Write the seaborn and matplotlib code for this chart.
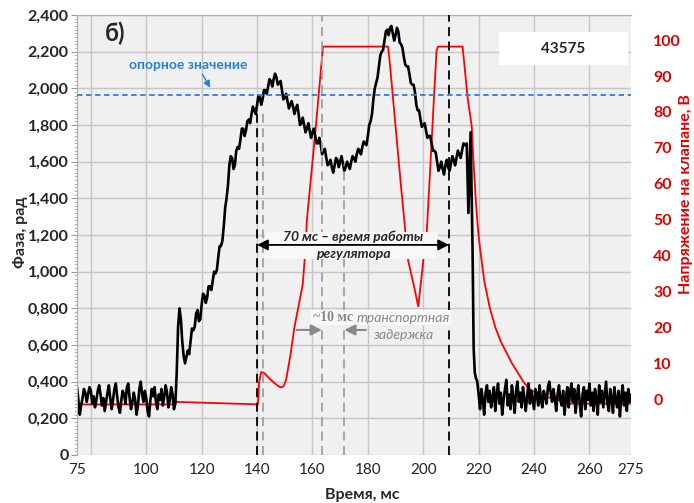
import numpy as np
import pandas as pd
import matplotlib
matplotlib.use("Agg")
import matplotlib.pyplot as plt
import seaborn as sns
from matplotlib.patches import Rectangle
from matplotlib.ticker import MultipleLocator
from matplotlib.transforms import blended_transform_factory

# --- данные: фаза (левая ось), шум до импульса
phase_pre = [0.37, 0.30, 0.22, 0.27, 0.31, 0.36, 0.34, 0.29, 0.33, 0.37,
             0.35, 0.28, 0.32, 0.26, 0.30, 0.35, 0.38, 0.33, 0.27, 0.31,
             0.24, 0.29, 0.34, 0.38, 0.31, 0.25, 0.30, 0.36, 0.39, 0.32,
             0.26, 0.23, 0.30, 0.35, 0.33, 0.28, 0.37, 0.39, 0.31, 0.25,
             0.29, 0.34, 0.30, 0.22, 0.27, 0.36, 0.40, 0.33, 0.29, 0.35,
             0.31, 0.24, 0.21, 0.30, 0.36, 0.32, 0.37, 0.29, 0.25, 0.33,
             0.30, 0.36, 0.27, 0.32, 0.38, 0.34, 0.26, 0.30, 0.37, 0.33,
             0.25, 0.28]
t_pre = np.linspace(75, 110.5, len(phase_pre))

# основная часть импульса (целые мс и края)
t_mid = [111, 111.5, 112, 112.5, 113, 113.5, 114] + list(range(115, 216)) + \
        [215.7, 216.3, 217.1, 217.8, 218.2, 218.6, 219]
phase_mid = [0.45, 0.70, 0.80, 0.74, 0.62, 0.54, 0.50,
             0.57, 0.62, 0.68, 0.77, 0.73, 0.82, 0.87, 0.86, 0.92, 0.95,
             0.99, 1.08, 1.14, 1.25, 1.40, 1.58, 1.62, 1.58, 1.68, 1.72,
             1.78, 1.77, 1.83, 1.86, 1.88, 1.91, 1.95, 1.94, 1.99, 2.01,
             2.04, 2.05, 2.06, 2.03, 1.99, 1.95, 1.93, 1.91, 1.90, 1.89,
             1.86, 1.81, 1.80, 1.78, 1.77, 1.76, 1.74, 1.70, 1.69, 1.66,
             1.62, 1.59, 1.57, 1.58, 1.61, 1.60, 1.59, 1.57, 1.58, 1.60,
             1.62, 1.64, 1.66, 1.68, 1.70, 1.74, 1.82, 1.94, 2.03, 2.12,
             2.20, 2.26, 2.32, 2.33, 2.30, 2.29, 2.31, 2.24, 2.17, 2.12,
             2.08, 2.02, 1.98, 1.88, 1.83, 1.80, 1.77, 1.74, 1.70, 1.66,
             1.60, 1.57, 1.56, 1.58, 1.57, 1.59, 1.61, 1.62, 1.64, 1.66,
             1.69,
             1.70, 1.32, 1.76, 1.12, 0.58, 0.45, 0.42]

# шумовые отсчёты между целыми мс (115.5 ... 214.5)
phase_mid_half = [0.55, 0.69, 0.70, 0.79, 0.74, 0.88, 0.83, 0.92, 0.90, 1.00,
                  1.01, 1.14, 1.17, 1.35, 1.47, 1.63, 1.56, 1.66, 1.67, 1.78,
                  1.74, 1.82, 1.81, 1.90, 1.86, 1.96, 1.91, 1.99, 1.97, 2.05,
                  2.01, 2.08, 2.02, 2.04, 1.94, 1.97, 1.89, 1.93, 1.86, 1.91,
                  1.80, 1.84, 1.76, 1.81, 1.73, 1.78, 1.70, 1.73, 1.64, 1.67,
                  1.58, 1.61, 1.54, 1.62, 1.57, 1.63, 1.55, 1.60, 1.56, 1.63,
                  1.60, 1.67, 1.64, 1.71, 1.69, 1.80, 1.86, 2.00, 2.06, 2.18,
                  2.21, 2.31, 2.29, 2.34, 2.26, 2.33, 2.25, 2.22, 2.13, 2.12,
                  2.03, 2.02, 1.91, 1.88, 1.79, 1.81, 1.73, 1.74, 1.66, 1.65,
                  1.55, 1.60, 1.53, 1.61, 1.55, 1.63, 1.58, 1.66, 1.62, 1.70]
t_mid_half = np.linspace(115.5, 214.5, len(phase_mid_half))

# шум после импульса
phase_post = [0.40, 0.33, 0.25, 0.36, 0.30, 0.22, 0.34, 0.38, 0.29, 0.35,
              0.26, 0.31, 0.37, 0.24, 0.33, 0.39, 0.28, 0.34, 0.22, 0.30,
              0.36, 0.41, 0.27, 0.33, 0.25, 0.38, 0.31, 0.23, 0.35, 0.40,
              0.29, 0.34, 0.26, 0.37, 0.31, 0.24, 0.32, 0.39, 0.28, 0.35,
              0.30, 0.25, 0.36, 0.33, 0.27, 0.38, 0.30, 0.26, 0.35, 0.32,
              0.28, 0.37, 0.40, 0.34, 0.29, 0.36, 0.31, 0.24, 0.33, 0.38,
              0.30, 0.27, 0.35, 0.22, 0.31, 0.37, 0.26, 0.34, 0.39, 0.29,
              0.36, 0.23, 0.32, 0.38, 0.28, 0.21, 0.33, 0.37, 0.25, 0.35,
              0.30, 0.39, 0.27, 0.34, 0.24, 0.36, 0.31, 0.22, 0.38, 0.29,
              0.35, 0.26, 0.33, 0.40, 0.28, 0.24, 0.36, 0.31, 0.23, 0.37,
              0.30, 0.26, 0.35, 0.21, 0.32, 0.38, 0.27, 0.34, 0.24, 0.36,
              0.29, 0.33]
t_post = np.linspace(219.5, 275, len(phase_post))

# напряжение на клапане (правая ось)
t_volt = [75, 110, 111, 140.3, 140.8, 141.5, 142.5, 143.5, 145, 147,
          148.5, 149.5, 150.5, 152, 153.5, 155, 156.5, 157.5, 158, 159.5,
          161, 162.5, 163.8, 164.3, 187.3, 188, 190, 192, 193.5, 194.6,
          196.5, 198.2, 200, 201.3, 202.5, 204, 204.8, 205.3, 214.2, 215,
          216, 217.5, 218, 219, 219.8, 220.5, 222, 224, 226, 228,
          230, 232, 234, 236, 238, 240, 245, 250, 252, 275]
volt = [-1.5, -1.5, -0.8, -1.5, 5, 7.5, 7.3, 6.5, 5.3, 4,
        3.2, 3.5, 5.4, 12, 20, 26, 32, 42, 50, 62,
        74, 87, 98.2, 98.2, 98.2, 93, 76, 59, 47, 38.4,
        32, 25.8, 38.4, 47, 64, 86, 97, 98.2, 98.2, 92,
        84, 76, 68, 55, 47, 42, 33, 25.5, 20, 16,
        13, 10, 7.5, 5, 3, 2, 0.5, -0.5, -1.3, -1.3]

x_ticks = [75, 100, 120, 140, 160, 180, 200, 220, 240, 260, 275]
x_grid = [80, 100, 120, 140, 160, 180, 200, 220, 240, 260]
phase_ticks = [0, 0.2, 0.4, 0.6, 0.8, 1.0, 1.2, 1.4, 1.6, 1.8, 2.0, 2.2, 2.4]
phase_labels = ["0", "0,200", "0,400", "0,600", "0,800", "1,000", "1,200",
                "1,400", "1,600", "1,800", "2,000", "2,200", "2,400"]
volt_ticks = [0, 10, 20, 30, 40, 50, 60, 70, 80, 90, 100]
reference_level = 1.965

df_phase = pd.DataFrame({"t": np.concatenate([t_pre, t_mid, t_mid_half, t_post]),
                         "phase": phase_pre + phase_mid + phase_mid_half + phase_post})
df_phase = df_phase.sort_values("t", kind="stable")
df_volt = pd.DataFrame({"t": t_volt, "volt": volt})

sns.set_style("white")
plt.rcParams["font.family"] = ["Lato", "DejaVu Sans"]

fig = plt.figure(figsize=(6.94, 5.03), dpi=100)
ax_v = fig.add_axes([77 / 694, 48 / 503, 554 / 694, 440 / 503])
ax_p = ax_v.twinx()
ax_v.set_facecolor("#f0f0f0")
ax_p.patch.set_visible(False)

gray = "#c6c6c6"
for a in (ax_v, ax_p):
    for s in ("right", "bottom"):
        a.spines[s].set_visible(False)
    a.spines["left"].set_color("#b0b0b0")
    a.spines["top"].set_color("#b0b0b0")

ax_v.set_xlim(75, 275)
ax_v.set_ylim(-15.6, 107)
ax_p.set_ylim(0, 2.4)

# сетка (под кривыми)
for g in x_grid:
    ax_v.axvline(g, color=gray, lw=1, zorder=0)
ax_v.hlines(phase_ticks, 0, 1, color=gray, lw=1, zorder=0,
            transform=blended_transform_factory(ax_v.transAxes, ax_p.transData))

sns.lineplot(data=df_volt, x="t", y="volt", ax=ax_v, color="#ff0000",
             lw=1.3, sort=False, estimator=None)
sns.lineplot(data=df_phase, x="t", y="phase", ax=ax_p, color="black",
             lw=1.9, sort=False, estimator=None)

# оси
ax_v.set_xticks(x_ticks)
ax_v.set_xticklabels([str(v) for v in x_ticks], fontsize=11, color="#222222")
ax_v.xaxis.set_minor_locator(MultipleLocator(2.5))
ax_v.tick_params(axis="x", which="major", length=3, color="#999999", pad=3)
ax_v.tick_params(axis="x", which="minor", length=2, color="#999999")
ax_v.yaxis.tick_right()
ax_v.set_yticks(volt_ticks)
ax_v.set_yticklabels([str(v) for v in volt_ticks], fontsize=11.5,
                     fontweight="bold", color="#e00000")
ax_v.tick_params(axis="y", length=0, pad=16)
ax_v.set_xlabel("")
ax_v.set_ylabel("")

ax_p.yaxis.tick_left()
ax_p.set_yticks(phase_ticks)
ax_p.set_yticklabels(phase_labels, fontsize=11.5, fontweight="bold")
ax_p.yaxis.set_minor_locator(MultipleLocator(0.02))
ax_p.tick_params(axis="y", which="major", length=4, color="#999999", pad=2)
ax_p.tick_params(axis="y", which="minor", length=2, color="#aaaaaa")
ax_p.set_ylabel("")

fig.text(20 / 694, 1 - 232 / 503, "Фаза, рад", rotation=90, ha="center",
         va="center", fontsize=11.5, fontweight="bold")
fig.text(686 / 694, 1 - 194 / 503, "Напряжение на клапане, В", rotation=90,
         ha="center", va="center", fontsize=11.5, fontweight="bold", color="#e00000")
fig.text(362 / 694, 1 - 495 / 503, "Время, мс", ha="center", va="center",
         fontsize=11.5, fontweight="bold")

# опорное значение
blue = "#2a80d6"
ax_p.axhline(reference_level, color=blue, lw=1.3, ls=(0, (3, 2)), zorder=4)
ax_p.text(115.1, 2.128, "опорное значение", color=blue, fontsize=10,
          fontweight="bold", ha="center", va="center")
ax_p.annotate("", xy=(123.6, 1.99), xytext=(119.8, 2.09),
              arrowprops=dict(arrowstyle="-|>", color=blue, lw=1, mutation_scale=10))

# вертикальные пунктиры
dash = (0, (5, 3))
ax_p.vlines([140], 0, 1.87, colors="black", lw=1.3, linestyles=[dash], zorder=5)
ax_p.vlines([209.3], 0, 2.4, colors="black", lw=1.3, linestyles=[dash], zorder=5)
ax_p.vlines([142], 0, 1.87, colors="#a0a0a0", lw=1.3, linestyles=[dash], zorder=5)
ax_p.vlines([163.6], 0, 2.4, colors="#a0a0a0", lw=1.3, linestyles=[dash], zorder=5)
ax_p.vlines([171.3], 0, 1.58, colors="#a0a0a0", lw=1.3, linestyles=[dash], zorder=5)

# 70 мс - время работы регулятора
ax_p.add_patch(Rectangle((142.9, 1.069), 62.4, 0.148, facecolor="#f8f8f8",
                         edgecolor="none", zorder=6))
ax_p.text(174.6, 1.19, "70 мс – время работы", fontsize=10, fontweight="bold",
          style="italic", ha="center", va="center", zorder=7)
ax_p.text(174.6, 1.097, "регулятора", fontsize=10, fontweight="bold",
          style="italic", ha="center", va="center", zorder=7)
ax_p.annotate("", xy=(140, 1.146), xytext=(209.3, 1.146), zorder=8,
              arrowprops=dict(arrowstyle="<|-|>", color="black", lw=1.3,
                              mutation_scale=16, shrinkA=0, shrinkB=0))

# транспортная задержка
g2 = "#888888"
ax_p.text(167.3, 0.75, "~10 мс", fontsize=10, fontweight="bold", color=g2,
          family="Liberation Serif", ha="center", va="center", zorder=7,
          bbox=dict(facecolor="#f8f8f8", edgecolor="none", pad=1))
ax_p.text(192.7, 0.75, "транспортная", fontsize=10, style="italic", color=g2,
          ha="center", va="center", zorder=7,
          bbox=dict(facecolor="#f8f8f8", edgecolor="none", pad=1))
ax_p.text(192.7, 0.652, "задержка", fontsize=10, style="italic", color=g2,
          ha="center", va="center", zorder=7)
ax_p.annotate("", xy=(163.4, 0.682), xytext=(154.4, 0.682), zorder=8,
              arrowprops=dict(arrowstyle="-|>", color=g2, lw=1.5,
                              mutation_scale=16, shrinkA=0, shrinkB=0))
ax_p.annotate("", xy=(171.5, 0.682), xytext=(179.3, 0.682), zorder=8,
              arrowprops=dict(arrowstyle="-|>", color=g2, lw=1.5,
                              mutation_scale=16, shrinkA=0, shrinkB=0))

# подписи
ax_p.text(88.7, 2.30, "б)", fontsize=17, fontweight="bold", ha="center",
          va="center")
ax_p.add_patch(Rectangle((0.762, 0.886), 0.233, 0.075, transform=ax_p.transAxes,
                         facecolor="white", edgecolor="none", zorder=6))
ax_p.text(0.878, 0.923, "43575", transform=ax_p.transAxes, fontsize=11,
          fontweight="bold", ha="center", va="center", zorder=7)

fig.savefig("out.png", dpi=100, facecolor="white")
